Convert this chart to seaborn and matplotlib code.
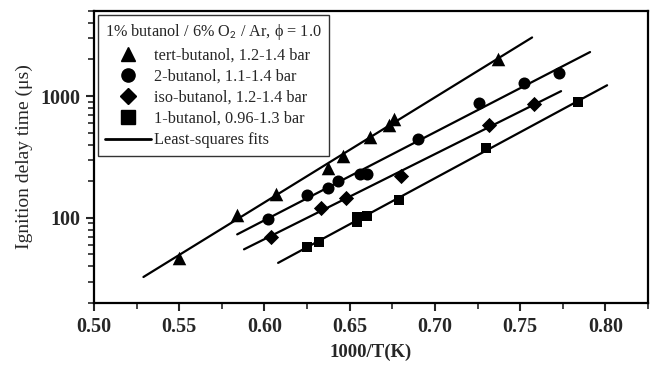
import numpy as np
import pandas as pd
import matplotlib
matplotlib.use('Agg')
import matplotlib.pyplot as plt
from matplotlib.ticker import MultipleLocator, FixedLocator, NullFormatter
from matplotlib.lines import Line2D
import seaborn as sns

# data: x = 1000/T(K), y = ignition delay time (us)
tert_x = [0.550, 0.584, 0.607, 0.637, 0.646, 0.662, 0.673, 0.676, 0.737]
tert_y = [47, 106, 158, 259, 325, 457, 574, 643, 2004]

two_x = [0.602, 0.625, 0.637, 0.643, 0.656, 0.660, 0.690, 0.726, 0.752, 0.773]
two_y = [97, 155, 177, 202, 228, 231, 440, 871, 1270, 1535]

iso_x = [0.604, 0.633, 0.648, 0.680, 0.732, 0.758]
iso_y = [70, 121, 146, 222, 574, 853]

one_x = [0.625, 0.632, 0.654, 0.654, 0.660, 0.679, 0.730, 0.784]
one_y = [58, 63, 93, 101, 104, 141, 378, 887]

# x range over which each least-squares fit is drawn
fit_range = {
    'tert': (0.529, 0.757),
    'two': (0.584, 0.791),
    'iso': (0.588, 0.774),
    'one': (0.608, 0.801),
}

series = [
    ('tert', 'tert-butanol, 1.2-1.4 bar', tert_x, tert_y, '^'),
    ('two', '2-butanol, 1.1-1.4 bar', two_x, two_y, 'o'),
    ('iso', 'iso-butanol, 1.2-1.4 bar', iso_x, iso_y, 'D'),
    ('one', '1-butanol, 0.96-1.3 bar', one_x, one_y, 's'),
]

sns.set_style('ticks')
plt.rcParams['font.family'] = ['Liberation Serif', 'DejaVu Serif']
plt.rcParams['mathtext.fontset'] = 'stix'

fig = plt.figure(figsize=(6.51, 3.65), dpi=100)
ax = fig.add_axes([0.1444, 0.170, 0.851, 0.800])

sizes = {'^': 95, 'o': 75, 'D': 60, 's': 60}
handles = []
for key, label, xs, ys, mk in series:
    xs = np.array(xs)
    ys = np.array(ys)
    k, b = np.polyfit(xs, np.log10(ys), 1)
    lx = np.linspace(*fit_range[key], 50)
    fit = pd.DataFrame({'x': lx, 'y': 10 ** (k * lx + b)})
    sns.lineplot(data=fit, x='x', y='y', color='black', lw=1.6, ax=ax)
    sns.scatterplot(x=xs, y=ys, marker=mk, color='black', s=sizes[mk],
                    edgecolor='black', linewidth=0, ax=ax, zorder=3)
    handles.append(Line2D([], [], ls='none', marker=mk, color='black',
                          markersize=9.5 if mk != 'D' else 8, label=label))
handles.append(Line2D([], [], color='black', lw=2, label='Least-squares fits'))

ax.set_yscale('log')
ax.set_xlim(0.5, 0.825)
ax.set_ylim(20, 5000)
ax.xaxis.set_major_locator(FixedLocator([0.50, 0.55, 0.60, 0.65, 0.70, 0.75, 0.80]))
ax.xaxis.set_minor_locator(MultipleLocator(0.025))
ax.set_xticklabels(['0.50', '0.55', '0.60', '0.65', '0.70', '0.75', '0.80'])
ax.set_yticks([100, 1000])
ax.set_yticklabels(['100', '1000'])
ax.yaxis.set_minor_formatter(NullFormatter())

for lbl in ax.get_xticklabels() + ax.get_yticklabels():
    lbl.set_fontweight('bold')
    lbl.set_fontsize(14.5)

ax.tick_params(which='major', length=6, width=1.5, direction='out', pad=4)
ax.tick_params(which='minor', length=4, width=1.2, direction='out')
for sp in ax.spines.values():
    sp.set_linewidth(1.6)
    sp.set_color('black')

ax.set_xlabel('1000/T(K)', fontsize=13.5, fontweight='bold', labelpad=5)
ax.set_ylabel('Ignition delay time (μs)', fontsize=14, labelpad=5)

leg = ax.legend(handles=handles, loc='upper left',
                title='1% butanol / 6% O$_{\\mathsf{2}}$ / Ar, \u03d5 = 1.0',
                fontsize=11.7, title_fontsize=11.7, alignment='left',
                frameon=True, fancybox=False, edgecolor='black',
                handlelength=2.8, handletextpad=0.2, labelspacing=0.32,
                borderpad=0.45, borderaxespad=0.25)
leg.get_frame().set_linewidth(1.0)

fig.savefig('out.png', dpi=100)
